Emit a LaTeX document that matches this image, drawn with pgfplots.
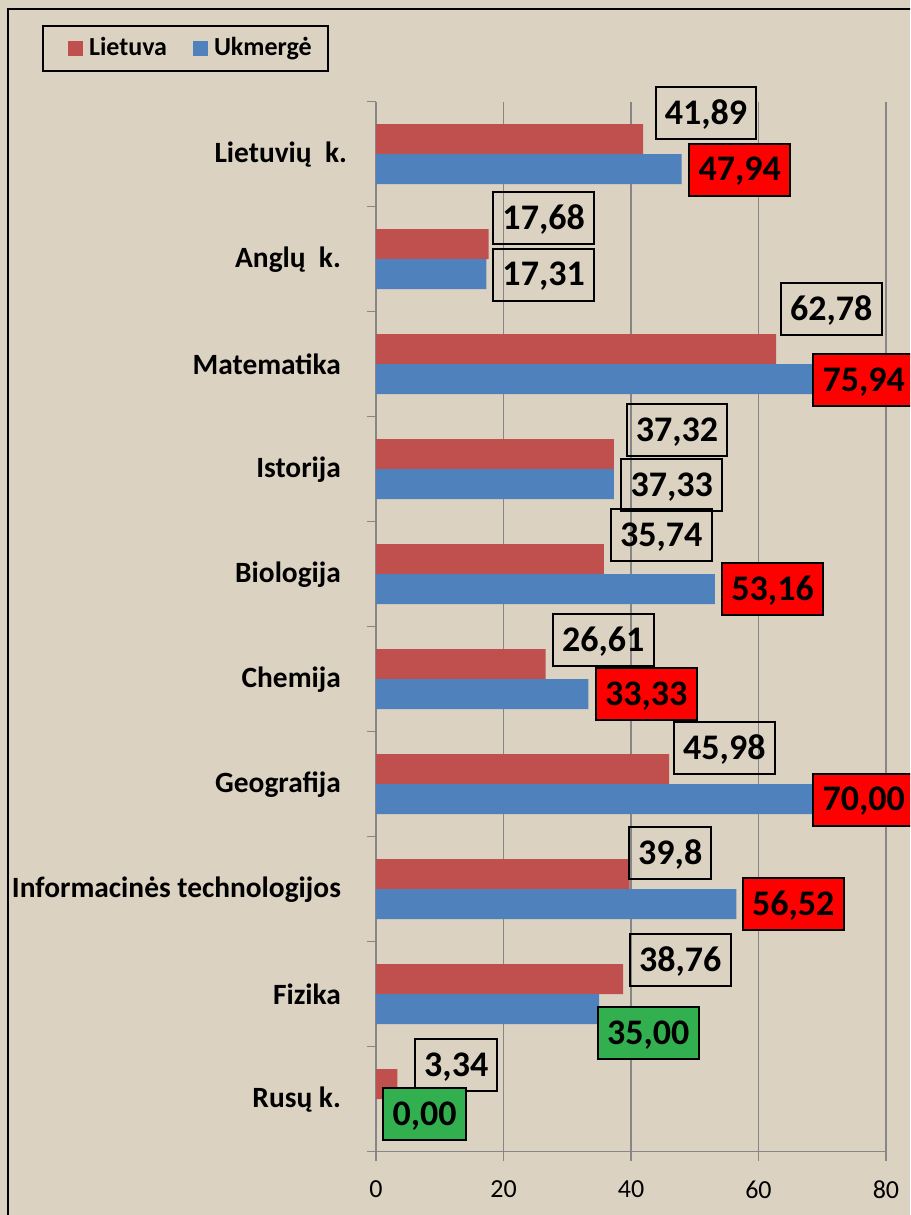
\documentclass[border=0pt]{standalone}
\usepackage{fontspec}
\setmainfont{Carlito}
\usepackage{pgfplots}
\pgfplotsset{compat=1.18}
\definecolor{redbar}{RGB}{192,80,77}
\definecolor{bluebar}{RGB}{79,129,189}
\definecolor{labred}{RGB}{255,0,0}
\definecolor{labgreen}{RGB}{50,176,80}
\definecolor{gridgray}{RGB}{134,134,134}
\definecolor{bgc}{RGB}{219,210,193}
\tikzset{lbl/.style={anchor=west, draw=black, line width=1pt, outer sep=0pt,
  inner xsep=4.6pt, inner ysep=0pt, minimum height=26pt, text height=11.4pt,
  text depth=0pt, text=black, font=\bfseries\fontsize{18}{18}\selectfont}}
\pgfplotsset{sqlegend/.style={legend image code/.code={\path (-4.5pt,0pt); \fill[##1] (0pt,-3.75pt) rectangle (7.5pt,3.75pt);}}}
\begin{document}
\begin{tikzpicture}
\useasboundingbox (0,0) rectangle (455pt,607.5pt);
\clip (0,0) rectangle (455pt,607.5pt);
\fill[bgc] (0,0) rectangle (455pt,607.5pt);
\draw[line width=1pt] (4pt,-5pt) -- (4pt,602.75pt) -- (470pt,602.75pt);
\begin{axis}[
  at={(188pt,31.65pt)}, anchor=south west,
  width=255pt, height=525pt, scale only axis,
  xmin=0, xmax=80, ymin=-0.5, ymax=9.5,
  clip=false,
  axis lines=left, axis line style={-, draw=gridgray, line width=0.8pt},
  xtick={0,20,40,60,80},
  minor xtick={0,20,40,60,80},
  ytick={0,1,2,3,4,5,6,7,8,9},
  yticklabels={Rusų k.,Fizika,Informacinės technologijos,Geografija\ ,Chemija,Biologija,Istorija,Matematika,Anglų\ \ k.,Lietuvių\ \ k.\kern-3pt},
  minor ytick={-0.5,0.5,1.5,2.5,3.5,4.5,5.5,6.5,7.5,8.5,9.5},
  major tick length=0pt, minor tick length=4.5pt, tick align=outside,
  tick style={draw=gridgray, line width=0.8pt},
  xmajorgrids, grid style={draw=gridgray, line width=0.8pt},
  yticklabel style={font=\bfseries\fontsize{14.7}{16}\selectfont, xshift=-14pt},
  xticklabel style={font=\fontsize{13}{13}\selectfont, yshift=-11pt},
  /pgf/number format/assume math mode=true,
  legend style={at={(-0.6549,1.0730)}, anchor=north west, draw=black, line width=1pt,
    fill=none, font=\bfseries\fontsize{13}{13}\selectfont, legend columns=2,
    inner xsep=8pt, inner ysep=5.5pt,
    /tikz/column sep=3pt,
    /tikz/every even column/.append style={column sep=8.5pt},
    nodes={inner sep=0pt, text height=9pt, text depth=2.6pt}},
]
\addplot[xbar, sqlegend, bar width=15pt, bar shift=7.5pt, fill=redbar, draw=none] coordinates {
  (41.89,9) (17.68,8) (62.78,7) (37.32,6) (35.74,5) (26.61,4) (45.98,3) (39.8,2) (38.76,1) (3.34,0)};
\addlegendentry{Lietuva}
\addplot[xbar, sqlegend, bar width=15pt, bar shift=-7.5pt, fill=bluebar, draw=none] coordinates {
  (47.94,9) (17.31,8) (75.94,7) (37.33,6) (53.16,5) (33.33,4) (70.00,3) (56.52,2) (35.00,1) (0.00,0)};
\addlegendentry{Ukmergė}
% data labels without fill
\addplot[forget plot, only marks, mark=*, mark size=0pt, mark options={draw=none,fill=none},
  point meta=explicit symbolic, nodes near coords, nodes near coords style={lbl, fill=none}]
  table[x=x, y=y, meta=t] {
x y t
43.87 9.392 41,89
18.40 8.392 17,68
63.53 7.526 62,78
39.33 6.370 37,32
36.86 5.369 35,74
27.76 4.370 26,61
46.75 3.347 45,98
39.69 2.345 39,8
39.84 1.326 38,76
6.12 0.323 3,34
18.40 7.854 17,31
38.48 5.852 37,33
};
% red-filled labels
\addplot[forget plot, only marks, mark=*, mark size=0pt, mark options={draw=none,fill=none},
  point meta=explicit symbolic, nodes near coords, nodes near coords style={lbl, fill=labred}]
  table[x=x, y=y, meta=t] {
x y t
49.15 8.854 47,94
68.60 6.852 75,94
54.32 4.859 53,16
34.51 3.857 33,33
68.60 2.854 70,00
57.57 1.859 56,52
};
% green-filled labels
\addplot[forget plot, only marks, mark=*, mark size=0pt, mark options={draw=none,fill=none},
  point meta=explicit symbolic, nodes near coords, nodes near coords style={lbl, fill=labgreen}]
  table[x=x, y=y, meta=t] {
x y t
34.82 0.630 35,00
1.15 -0.138 0,00
};
\end{axis}
\end{tikzpicture}
\end{document}
